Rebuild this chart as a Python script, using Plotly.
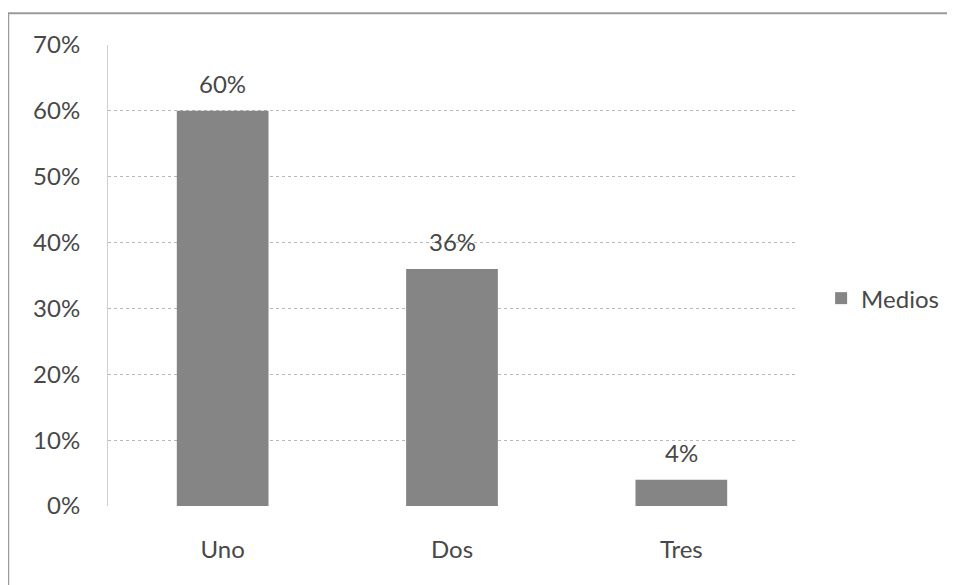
import plotly.graph_objects as go

categories = ["Uno", "Dos", "Tres"]
values = [0.60, 0.36, 0.04]
value_labels = ["60%", "36%", "4%"]
series_name = "Medios"
y_ticks = [0, 0.1, 0.2, 0.3, 0.4, 0.5, 0.6, 0.7]
y_tick_labels = ["0%", "10%", "20%", "30%", "40%", "50%", "60%", "70%"]

FONT = "Lato, 'Open Sans', sans-serif"
TXT = "#484848"
FS = 24

fig = go.Figure()
fig.add_trace(go.Bar(
    x=categories, y=values, name=series_name,
    marker=dict(color="#858585", line=dict(width=0)),
    showlegend=True,
))

for c, v, t in zip(categories, values, value_labels):
    fig.add_annotation(x=c, y=v, xref="x", yref="y", text=t, showarrow=False,
                       yanchor="bottom", yshift=11,
                       font=dict(family=FONT, size=FS, color=TXT))

fig.add_shape(type="rect", xref="paper", yref="paper",
              x0=-0.145, x1=1.4, y0=-0.3, y1=1.069,
              line=dict(color="#9a9a9a", width=2), fillcolor="rgba(0,0,0,0)",
              layer="below")

fig.update_layout(
    width=947, height=577,
    margin=dict(l=100, r=158, t=37, b=79),
    paper_bgcolor="white", plot_bgcolor="white",
    bargap=0.6,
    font=dict(family=FONT, size=FS, color=TXT),
    legend=dict(x=1.035, y=0.45, xanchor="left", yanchor="middle",
                font=dict(family=FONT, size=FS, color=TXT),
                itemsizing="constant"),
)
fig.update_yaxes(
    range=[0, 0.7], tickvals=y_ticks, ticktext=y_tick_labels,
    showgrid=True, gridcolor="#b8b8b8", griddash="dot", gridwidth=1,
    showline=True, linecolor="#d0d0d0", linewidth=1,
    ticks="outside", ticklen=22, tickcolor="rgba(0,0,0,0)",
    zeroline=False, fixedrange=True,
    tickfont=dict(family=FONT, size=FS, color=TXT),
)
fig.update_xaxes(
    showgrid=False, showline=False, zeroline=False,
    ticks="outside", ticklen=22, tickcolor="rgba(0,0,0,0)",
    tickfont=dict(family=FONT, size=FS, color=TXT),
)

fig.write_html("out.html")
